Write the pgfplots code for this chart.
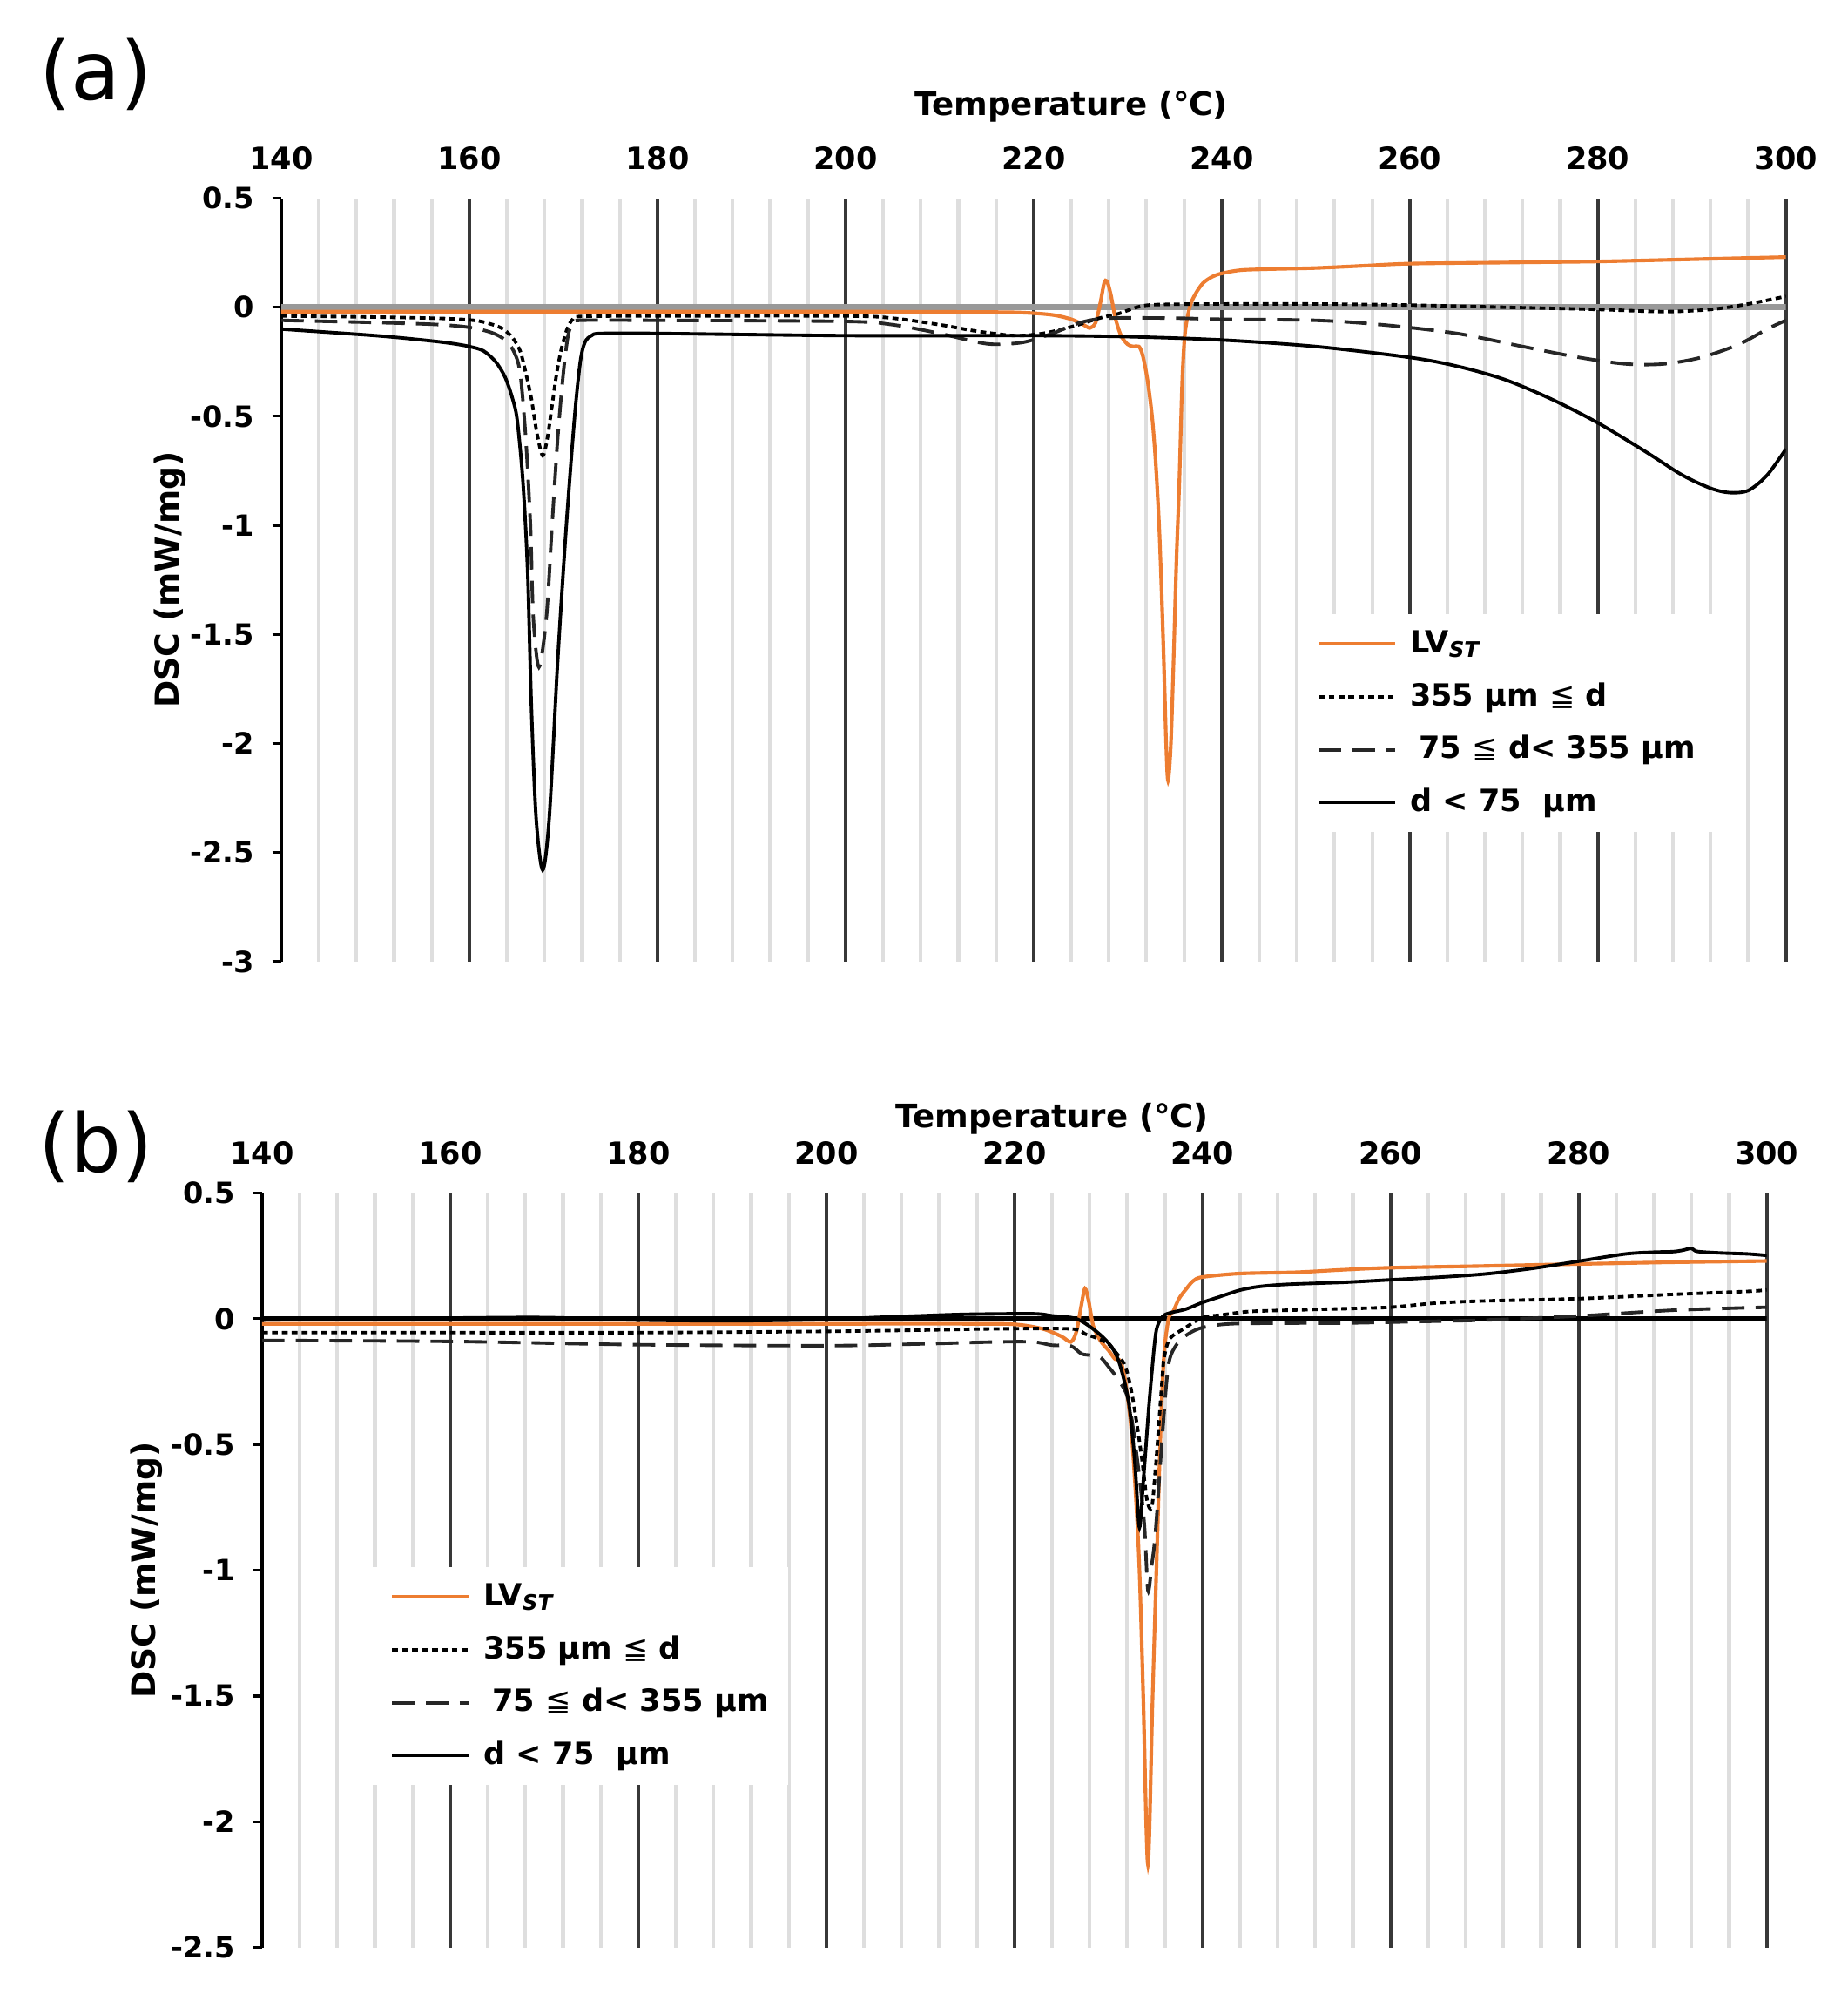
\documentclass[border=0pt]{standalone}
\usepackage{fontspec}
\setmainfont{DejaVu Sans}
\newfontfamily\symfont{DejaVu Sans}
\usepackage{pgfplots}
\pgfplotsset{compat=1.18}
\definecolor{lvorange}{HTML}{ED7D31}
\newcommand{\tkfont}{\fontsize{6.8}{8}\selectfont\bfseries}
\newcommand{\legfont}{\fontsize{6.8}{8.2}\selectfont\bfseries}
\newcommand{\lesym}{{\mdseries\symfont ≦}}
\pgfplotsset{
  dscaxis/.style={
    scale only axis,
    width=11.77cm,
    xmin=140, xmax=300,
    axis x line*=top,
    axis y line*=left,
    x axis line style={draw=none},
    y axis line style={black, line width=0.7pt, -},
    xtick={140,160,180,200,220,240,260,280,300},
    xticklabels={140,160,180,200,220,240,260,280,300},
    minor x tick num=4,
    xmajorgrids, xminorgrids,
    major grid style={black!78, line width=0.8pt},
    minor grid style={black!13, line width=0.8pt},
    xtick style={draw=none},
    minor x tick style={draw=none},
    ytick align=outside,
    ytick style={black, line width=0.6pt},
    major tick length=0.07cm,
    xticklabel style={font=\tkfont, yshift=0.1cm},
    yticklabel style={font=\fontsize{6.5}{8}\selectfont\bfseries, xshift=-0.02cm},
    xlabel={Temperature (°C)},
    ylabel={DSC (mW/mg)},
    xlabel style={font=\fontsize{7.2}{8.6}\selectfont\bfseries, anchor=center},
    ylabel style={font=\fontsize{7.3}{8.6}\selectfont\bfseries, anchor=center},
    legend cell align=left,
    legend style={draw=none, fill=white, font=\legfont, anchor=north west,
      inner xsep=0.15cm, inner ysep=3pt, row sep=4.8pt,
      nodes={inner sep=0pt, text height=5.5pt, text depth=1.5pt},
      /tikz/every odd column/.append style={column sep=0.1cm}},
    legend image code/.code={\draw[#1] (0cm,0cm) -- (0.6cm,0cm);},
  },
  orangeline/.style={lvorange, line width=0.8pt, smooth, tension=0.5},
  dotline/.style={black, line width=0.75pt, dash pattern=on 1.3pt off 0.9pt, smooth, tension=0.5},
  dashline/.style={black!85, line width=0.75pt, dash pattern=on 5pt off 2.5pt, smooth, tension=0.5},
  solidline/.style={black, line width=0.75pt, smooth, tension=0.5},
}
\begin{document}
\begin{tikzpicture}
\useasboundingbox (0,0) rectangle (14.45cm,15.75cm);
\node[font=\fontsize{18}{20}\selectfont] at (0.75cm,15.17cm) {(a)};
\node[font=\fontsize{18}{20}\selectfont] at (0.75cm,6.78cm) {(b)};

% ---------------- panel (a)
\begin{axis}[dscaxis, at={(2.20cm,8.23cm)}, anchor=south west,
  height=5.97cm, ymin=-3, ymax=0.5,
  ytick={-3,-2.5,-2,-1.5,-1,-0.5,0,0.5},
  yticklabels={-3,-2.5,-2,-1.5,-1,-0.5,0,0.5},
  xlabel style={at={(axis description cs:0.525,1.12)}},
  ylabel style={at={(axis description cs:-0.074,0.5)}},
  legend style={at={(axis description cs:0.675,0.456)}}]
\draw[black!40, line width=1.3pt] (axis cs:140,0) -- (axis cs:300,0);
\addplot[orangeline] coordinates {(140,-0.02)(160,-0.02)(180,-0.02)(200,-0.02)(215,-0.022)(219,-0.025)(222,-0.035)(224,-0.055)(225.3,-0.08)(226,-0.095)(226.6,-0.07)(227.1,0.02)(227.5,0.11)(227.8,0.12)(228.2,0.06)(228.7,-0.05)(229.3,-0.13)(230,-0.17)(230.6,-0.18)(231.2,-0.18)(231.6,-0.22)(232.1,-0.33)(232.6,-0.5)(233,-0.72)(233.4,-1.05)(233.8,-1.55)(234.1,-2.0)(234.3,-2.17)(234.6,-2.0)(234.9,-1.6)(235.2,-1.15)(235.5,-0.8)(235.8,-0.35)(236.1,-0.12)(236.6,0.0)(237.2,0.06)(238,0.11)(239,0.14)(240,0.155)(242,0.17)(245,0.175)(250,0.18)(255,0.19)(260,0.2)(270,0.205)(280,0.21)(290,0.22)(300,0.23)};
\addlegendentry{LV\textsubscript{\itshape ST}}
\addplot[dotline] coordinates {(140,-0.04)(150,-0.045)(156,-0.05)(159,-0.055)(161,-0.063)(162.5,-0.08)(163.6,-0.1)(164.6,-0.14)(165.4,-0.2)(166,-0.3)(166.6,-0.42)(167.2,-0.58)(167.8,-0.68)(168.3,-0.6)(168.8,-0.45)(169.3,-0.3)(169.8,-0.19)(170.4,-0.1)(171,-0.055)(172,-0.042)(180,-0.04)(200,-0.04)(205,-0.05)(210,-0.08)(214,-0.11)(218,-0.13)(221,-0.12)(224,-0.09)(227,-0.05)(229,-0.03)(231,0.0)(233,0.012)(240,0.015)(250,0.015)(260,0.01)(270,0.0)(280,-0.01)(287,-0.02)(292,-0.01)(296,0.015)(300,0.05)};
\addlegendentry{355 µm \lesym{} d}
\addplot[dashline] coordinates {(140,-0.06)(150,-0.07)(156,-0.078)(159,-0.087)(161,-0.1)(162.6,-0.12)(163.8,-0.15)(164.7,-0.2)(165.4,-0.3)(166,-0.6)(166.5,-1.0)(166.8,-1.42)(167.4,-1.65)(168.2,-1.42)(168.8,-1.0)(169.4,-0.6)(170,-0.3)(170.5,-0.13)(171,-0.075)(171.8,-0.06)(180,-0.06)(200,-0.065)(205,-0.08)(210,-0.12)(214,-0.16)(216,-0.17)(219,-0.16)(222,-0.12)(225,-0.07)(228,-0.05)(235,-0.05)(240,-0.055)(250,-0.06)(257,-0.08)(265,-0.12)(272,-0.18)(278,-0.23)(283,-0.26)(287,-0.26)(291,-0.23)(295,-0.17)(298,-0.1)(300,-0.06)};
\addlegendentry{\hspace{2pt}75 \lesym{} d< 355 µm}
\addplot[solidline] coordinates {(140,-0.1)(150,-0.13)(155,-0.15)(158,-0.165)(160,-0.18)(161.5,-0.2)(162.8,-0.25)(163.8,-0.32)(164.6,-0.42)(165.1,-0.52)(165.7,-0.8)(166.2,-1.21)(166.6,-1.83)(167.1,-2.34)(167.8,-2.58)(168.5,-2.34)(169.4,-1.62)(170.3,-1.01)(171.2,-0.5)(171.8,-0.25)(172.3,-0.16)(173,-0.13)(174,-0.12)(180,-0.12)(200,-0.13)(220,-0.13)(230,-0.135)(240,-0.15)(250,-0.18)(260,-0.23)(265,-0.27)(270,-0.33)(275,-0.42)(280,-0.53)(285,-0.66)(289,-0.77)(292,-0.83)(294,-0.85)(296,-0.84)(298,-0.77)(300,-0.65)};
\addlegendentry{d < 75\ \ µm}
\end{axis}

% ---------------- panel (b)
\begin{axis}[dscaxis, at={(2.05cm,0.52cm)}, anchor=south west,
  height=5.90cm, ymin=-2.5, ymax=0.5,
  ytick={-2.5,-2,-1.5,-1,-0.5,0,0.5},
  yticklabels={-2.5,-2,-1.5,-1,-0.5,0,0.5},
  xlabel style={at={(axis description cs:0.525,1.098)}},
  ylabel style={at={(axis description cs:-0.0765,0.5)}},
  legend style={at={(axis description cs:0.072,0.505)}}]
\draw[black, line width=1pt] (axis cs:140,0) -- (axis cs:300,0);
\addplot[orangeline] coordinates {(140,-0.02)(180,-0.02)(200,-0.02)(215,-0.02)(220,-0.022)(223,-0.04)(225,-0.07)(226,-0.092)(226.6,-0.05)(227.1,0.05)(227.5,0.12)(227.9,0.07)(228.4,-0.03)(229.2,-0.09)(230,-0.125)(230.7,-0.16)(231.3,-0.17)(231.8,-0.25)(232.4,-0.43)(232.9,-0.7)(233.3,-1.0)(233.7,-1.5)(234.2,-2.17)(234.7,-1.5)(235.1,-1.0)(235.5,-0.5)(235.9,-0.15)(236.4,0.0)(236.9,0.03)(237.5,0.08)(238.3,0.12)(239,0.15)(240,0.166)(244,0.18)(250,0.185)(255,0.195)(260,0.203)(270,0.21)(280,0.218)(290,0.225)(300,0.23)};
\addlegendentry{LV\textsubscript{\itshape ST}}
\addplot[dotline] coordinates {(140,-0.055)(160,-0.055)(180,-0.055)(200,-0.05)(210,-0.045)(218,-0.04)(226,-0.04)(227.5,-0.06)(229,-0.08)(230,-0.1)(230.6,-0.125)(231.8,-0.19)(232.6,-0.32)(233.5,-0.54)(234.1,-0.72)(234.6,-0.75)(235,-0.6)(235.4,-0.4)(235.7,-0.25)(235.9,-0.16)(236.5,-0.08)(238,-0.04)(240,0.005)(242,0.015)(245,0.029)(250,0.035)(255,0.04)(260,0.046)(265,0.063)(270,0.071)(280,0.08)(290,0.097)(298,0.109)(300,0.115)};
\addlegendentry{355 µm \lesym{} d}
\addplot[dashline] coordinates {(140,-0.086)(160,-0.09)(180,-0.103)(200,-0.107)(210,-0.1)(218,-0.092)(222,-0.092)(224,-0.105)(226,-0.108)(227.2,-0.14)(229,-0.15)(230,-0.19)(231,-0.24)(232.1,-0.32)(233,-0.54)(233.8,-0.81)(234.2,-1.08)(234.6,-0.98)(235,-0.85)(235.8,-0.43)(236.4,-0.18)(237.3,-0.1)(238.5,-0.06)(240,-0.035)(243,-0.02)(250,-0.017)(255,-0.017)(263,-0.011)(270,-0.005)(280,0.011)(290,0.034)(300,0.046)};
\addlegendentry{\hspace{2pt}75 \lesym{} d< 355 µm}
\addplot[solidline] coordinates {(140,-0.005)(150,0.0)(160,0.003)(170,0.005)(180,-0.005)(190,-0.008)(200,-0.003)(205,0.005)(210,0.012)(215,0.018)(222,0.02)(224,0.012)(226.6,0.0)(228.7,-0.05)(230.3,-0.11)(231.2,-0.18)(232.1,-0.32)(232.6,-0.48)(232.9,-0.62)(233.3,-0.83)(233.7,-0.65)(234,-0.5)(234.3,-0.35)(234.6,-0.22)(234.9,-0.1)(235.2,-0.03)(236,0.016)(238.2,0.038)(240,0.065)(241.7,0.086)(242.8,0.1)(244.1,0.115)(246,0.128)(249,0.137)(255,0.145)(260,0.155)(265,0.165)(270,0.178)(275,0.2)(280,0.229)(285,0.258)(288,0.265)(290,0.267)(291,0.272)(292,0.28)(292.6,0.268)(295,0.262)(298,0.258)(300,0.252)};
\addlegendentry{d < 75\ \ µm}
\end{axis}
\end{tikzpicture}
\end{document}
